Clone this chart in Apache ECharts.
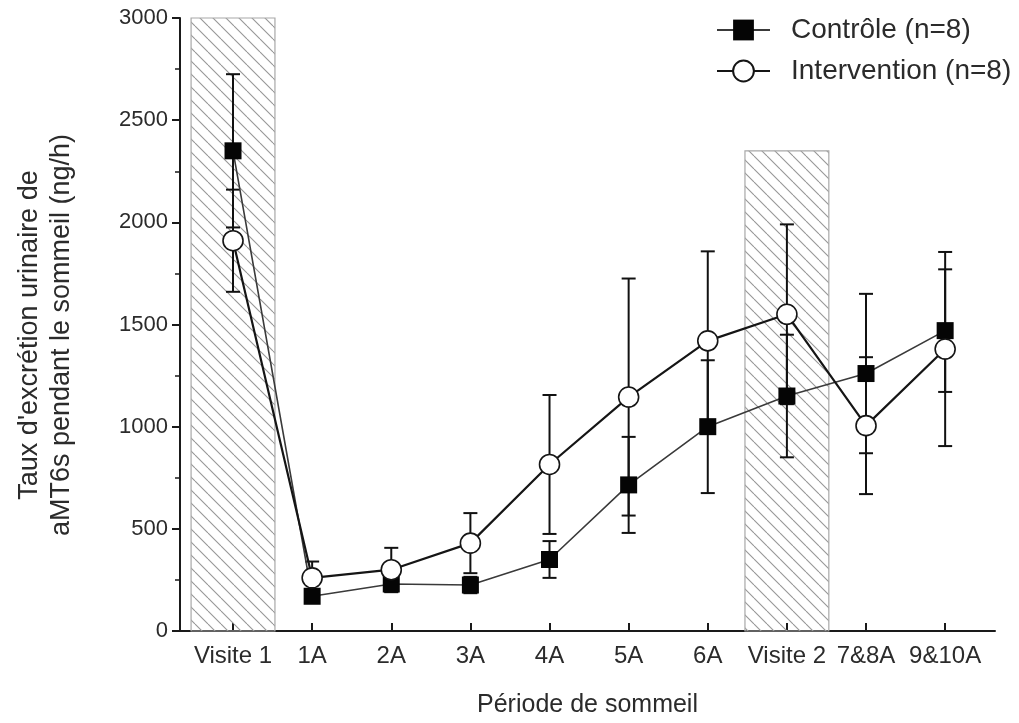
<!DOCTYPE html>
<html>
<head>
<meta charset="utf-8">
<script src="https://cdn.jsdelivr.net/npm/echarts@6/dist/echarts.min.js"></script>
<style>
  html, body { margin: 0; padding: 0; background: #fff; }
  #chart { width: 1019px; height: 723px; }
</style>
</head>
<body>
<div id="chart"></div>
<script>
// Sleep periods on the horizontal axis
const periods = ['Visite 1', '1A', '2A', '3A', '4A', '5A', '6A', 'Visite 2', '7&8A', '9&10A'];

// Mean urinary aMT6s excretion rate (ng/h) and error half-widths
const controlMean = [2350, 170, 230, 225, 350, 715, 1000, 1150, 1260, 1470];
const controlErr = [375, 30, 40, 40, 90, 235, 325, 300, 390, 300];
const interventionMean = [1910, 260, 300, 430, 815, 1145, 1420, 1550, 1005, 1380];
const interventionErr = [250, 80, 107, 147, 340, 580, 438, 440, 335, 475];

// Hatched visit periods: category index and top of the shaded block
const visitIndex = [0, 7];
const visitTop = [3000, 2350];

const periodTicks = periods.map((_, i) => i);

// Small repeating tile of "\" diagonal lines
function makeHatch() {
  const s = 13;
  const c = document.createElement('canvas');
  c.width = s; c.height = s;
  const g = c.getContext('2d');
  g.strokeStyle = '#969696';
  g.lineWidth = 1.1;
  for (const o of [-s, 0, s]) {
    g.beginPath();
    g.moveTo(o, 0);
    g.lineTo(o + s, s);
    g.stroke();
  }
  return c;
}
const hatchTile = makeHatch();

function errorBars(id, means, errs, z) {
  return {
    type: 'custom',
    id: id,
    silent: true,
    z: z,
    data: means.map((m, i) => [i, m - errs[i], m + errs[i]]),
    encode: { x: 0, y: [1, 2] },
    renderItem: function (params, api) {
      const lo = api.coord([api.value(0), api.value(1)]);
      const hi = api.coord([api.value(0), api.value(2)]);
      const w = 7;
      const style = { stroke: '#111', lineWidth: 2 };
      return {
        type: 'group',
        children: [
          { type: 'line', shape: { x1: lo[0], y1: lo[1], x2: hi[0], y2: hi[1] }, style: style },
          { type: 'line', shape: { x1: lo[0] - w, y1: lo[1], x2: lo[0] + w, y2: lo[1] }, style: style },
          { type: 'line', shape: { x1: hi[0] - w, y1: hi[1], x2: hi[0] + w, y2: hi[1] }, style: style }
        ]
      };
    }
  };
}

const chart = echarts.init(document.getElementById('chart'), null, { renderer: 'canvas' });

const textColor = '#2b2b2b';
const font = 'Liberation Sans, Arial, sans-serif';

chart.setOption({
  backgroundColor: '#fff',
  animation: false,
  textStyle: { fontFamily: font },
  grid: { left: 180, right: 24, top: 18, bottom: 90, containLabel: false },
  legend: {
    data: ['Contrôle (n=8)', 'Intervention (n=8)'],
    orient: 'vertical',
    left: 711,
    top: 11,
    itemWidth: 53,
    itemHeight: 26,
    itemGap: 13,
    selectedMode: false,
    textStyle: { fontSize: 28, lineHeight: 28, color: textColor, fontFamily: font, padding: [0, 0, 0, 16] }
  },
  xAxis: {
    type: 'value',
    min: -0.67,
    max: 9.63,
    splitLine: { show: false },
    axisLine: { show: true, onZero: false, lineStyle: { color: '#1a1a1a', width: 2 } },
    axisTick: { show: true, inside: true, length: 8, customValues: periodTicks, lineStyle: { color: '#1a1a1a', width: 2 } },
    axisLabel: {
      customValues: periodTicks,
      formatter: v => periods[Math.round(v)],
      fontSize: 24,
      color: textColor,
      margin: 13
    },
    name: 'Période de sommeil',
    nameLocation: 'middle',
    nameGap: 62,
    nameTextStyle: { fontSize: 25, color: textColor }
  },
  yAxis: {
    type: 'value',
    min: 0,
    max: 3000,
    interval: 500,
    splitLine: { show: false },
    axisLine: { show: true, onZero: false, lineStyle: { color: '#1a1a1a', width: 2 } },
    axisTick: { show: true, inside: false, length: 8, lineStyle: { color: '#1a1a1a', width: 2 } },
    minorTick: { show: true, splitNumber: 2, length: 5, lineStyle: { color: '#1a1a1a', width: 1.5 } },
    axisLabel: { fontSize: 22, color: textColor, margin: 12, formatter: v => String(v) }
  },
  graphic: [{
    type: 'text',
    x: 46,
    y: 335,
    rotation: Math.PI / 2,
    style: {
      text: "Taux d'excrétion urinaire de\naMT6s pendant le sommeil (ng/h)",
      fontSize: 27,
      lineHeight: 32,
      fill: textColor,
      fontFamily: font,
      align: 'center',
      verticalAlign: 'middle'
    }
  }],
  series: [
    {
      type: 'custom',
      id: 'visits',
      silent: true,
      z: 1,
      data: visitIndex.map((v, i) => [v, visitTop[i]]),
      encode: { x: 0, y: 1 },
      renderItem: function (params, api) {
        const i = api.value(0);
        const p0 = api.coord([i - 0.53, api.value(1)]);
        const p1 = api.coord([i + 0.53, 0]);
        return {
          type: 'rect',
          shape: { x: p0[0], y: p0[1], width: p1[0] - p0[0], height: p1[1] - p0[1] },
          style: { fill: { image: hatchTile, repeat: 'repeat' }, stroke: '#a8a8a8', lineWidth: 1.2 }
        };
      }
    },
    errorBars('controlErr', controlMean, controlErr, 2),
    errorBars('interventionErr', interventionMean, interventionErr, 2),
    {
      name: 'Contrôle (n=8)',
      type: 'line',
      z: 3,
      data: controlMean.map((v, i) => [i, v]),
      symbol: 'rect',
      symbolSize: 17,
      lineStyle: { color: '#3a3a3a', width: 1.6 },
      itemStyle: { color: '#050505', borderColor: '#050505', borderWidth: 0 }
    },
    {
      name: 'Intervention (n=8)',
      type: 'line',
      z: 4,
      data: interventionMean.map((v, i) => [i, v]),
      symbol: 'circle',
      symbolSize: 20,
      lineStyle: { color: '#151515', width: 2.2 },
      itemStyle: { color: '#ffffff', borderColor: '#151515', borderWidth: 1.6 }
    }
  ]
});
</script>
</body>
</html>
